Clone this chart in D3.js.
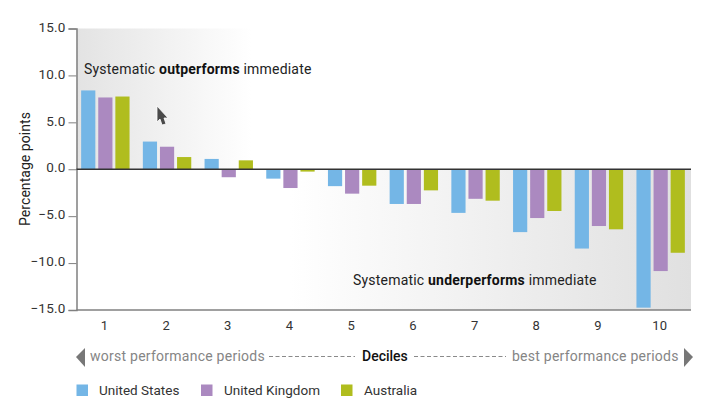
<!DOCTYPE html>
<html><head><meta charset="utf-8">
<script src="https://cdn.jsdelivr.net/npm/d3@7"></script>
<style>html,body{margin:0;padding:0;background:#fff}svg{display:block}text{font-family:Roboto,sans-serif}</style>
</head><body><svg id="c" width="707" height="407"></svg>
<script>
const deciles = ["1","2","3","4","5","6","7","8","9","10"];
const seriesNames = ["United States","United Kingdom","Australia"];
const seriesColors = ["#74b6e6","#ab89c0","#b0bd1e"];
const unitedStates = [8.4,2.95,1.1,-1.0,-1.8,-3.7,-4.65,-6.7,-8.45,-14.75];
const unitedKingdom = [7.65,2.4,-0.85,-2.0,-2.6,-3.7,-3.15,-5.2,-6.05,-10.85];
const australia = [7.75,1.3,0.95,-0.25,-1.75,-2.25,-3.35,-4.45,-6.4,-8.9];
const yTicks = [15,10,5,0,-5,-10,-15];
const seriesValues = [unitedStates,unitedKingdom,australia];

const svg = d3.select("#c");
const L=76.5,R=691,T=28.5,B=310;
const y = d3.scaleLinear().domain([-15,15]).range([B,T]);
const x = d3.scaleBand().domain(deciles).range([74.5,691.5]);
const xs = d3.scaleBand().domain(d3.range(3)).range([x.bandwidth()/2-24.2,x.bandwidth()/2+24.2]).paddingInner(0.17).paddingOuter(0);
const defs = svg.append("defs");
const g1=defs.append("linearGradient").attr("id","g1");
g1.append("stop").attr("offset",0).attr("stop-color","#e3e3e3");
g1.append("stop").attr("offset",1).attr("stop-color","#fff");
const g2=defs.append("linearGradient").attr("id","g2");
g2.append("stop").attr("offset",0).attr("stop-color","#fff");
g2.append("stop").attr("offset",1).attr("stop-color","#e0e0e0");
svg.append("rect").attr("x",L).attr("y",T).attr("width",175).attr("height",y(0)-T).attr("fill","url(#g1)");
svg.append("rect").attr("x",290).attr("y",y(0)).attr("width",R-290).attr("height",B-y(0)).attr("fill","url(#g2)");

// bars
seriesValues.forEach((vals,s)=>{
  svg.append("g").selectAll("rect").data(vals).join("rect")
    .attr("x",(d,i)=>x(deciles[i])+xs(s))
    .attr("width",xs.bandwidth())
    .attr("y",d=>Math.min(y(d),y(0)))
    .attr("height",d=>Math.abs(y(d)-y(0)))
    .attr("fill",seriesColors[s]);
});

// axes
const fmt=d=>(d<0?"\u2212":"")+Math.abs(d).toFixed(1);
const ya=svg.append("g").attr("transform",`translate(${L},0)`)
  .call(d3.axisLeft(y).tickValues(yTicks).tickFormat(fmt).tickSize(8).tickPadding(3));
ya.select(".domain").attr("stroke","#808080").attr("stroke-width",1.5);
ya.selectAll(".tick line").attr("stroke","#808080").attr("stroke-width",1);
ya.selectAll("text").attr("font-size",13.5).attr("fill","#333").attr("letter-spacing",0.2).attr("dy","0.2em").style("font-family","Roboto,sans-serif");
svg.append("line").attr("x1",L).attr("x2",R).attr("y1",B).attr("y2",B).attr("stroke","#808080").attr("stroke-width",1.5);
svg.append("line").attr("x1",L).attr("x2",R).attr("y1",y(0)).attr("y2",y(0)).attr("stroke","#333").attr("stroke-width",1.5);
const xa=svg.append("g").attr("transform",`translate(-1,${B})`)
  .call(d3.axisBottom(x).tickSize(0).tickPadding(11));
xa.select(".domain").remove();
xa.selectAll("text").attr("font-size",13).attr("fill","#333").style("font-family","Roboto,sans-serif");

svg.append("text").attr("transform","translate(30,169) rotate(-90)").attr("text-anchor","middle")
  .attr("font-size",14).attr("letter-spacing",0.05).attr("fill","#222").text("Percentage points");

function rich(xp,yp,a,b,c){
  const t=svg.append("text").attr("x",xp).attr("y",yp).attr("font-size",14).attr("letter-spacing",0.2).attr("fill","#222");
  t.append("tspan").text(a);
  t.append("tspan").attr("font-weight",700).attr("fill","#111").text(b);
  t.append("tspan").text(c);
}
rich(84,73.5,"Systematic ","outperforms"," immediate");
rich(353,285,"Systematic ","underperforms"," immediate");

// cursor glyph
svg.append("path").attr("d","M157,106 L168,118 L164,118 L166,124 L162,125 L160,119 L157,122 Z")
  .attr("fill","#4a4a4a").attr("stroke","#fff").attr("stroke-width",0.8);

// decile direction row
svg.append("path").attr("d","M76,357 L85,348 L85,367 Z").attr("fill","#777");
svg.append("path").attr("d","M693,357 L684,348 L684,367 Z").attr("fill","#777");
svg.append("text").attr("x",90).attr("y",361).attr("font-size",14).attr("letter-spacing",0.25).attr("fill","#858585").text("worst performance periods");
svg.append("text").attr("x",512).attr("y",361).attr("font-size",14).attr("letter-spacing",0.25).attr("fill","#858585").text("best performance periods");
svg.append("text").attr("x",362).attr("y",361).attr("font-size",14).attr("font-weight",500).attr("fill","#111").text("Deciles");
[[269,355],[414,506]].forEach(([a,b])=>svg.append("line").attr("x1",a).attr("x2",b).attr("y1",356.5).attr("y2",356.5)
  .attr("stroke","#8a8a8a").attr("stroke-dasharray","4 2.5"));

// legend
const lx=[76.5,201,341], tx=[99,224,364];
seriesNames.forEach((n,i)=>{
  svg.append("rect").attr("x",lx[i]).attr("y",384.5).attr("width",11.5).attr("height",11.5).attr("fill",seriesColors[i]);
  svg.append("text").attr("x",tx[i]).attr("y",395).attr("font-size",13.5).attr("fill","#333").text(n);
});
</script></body></html>
